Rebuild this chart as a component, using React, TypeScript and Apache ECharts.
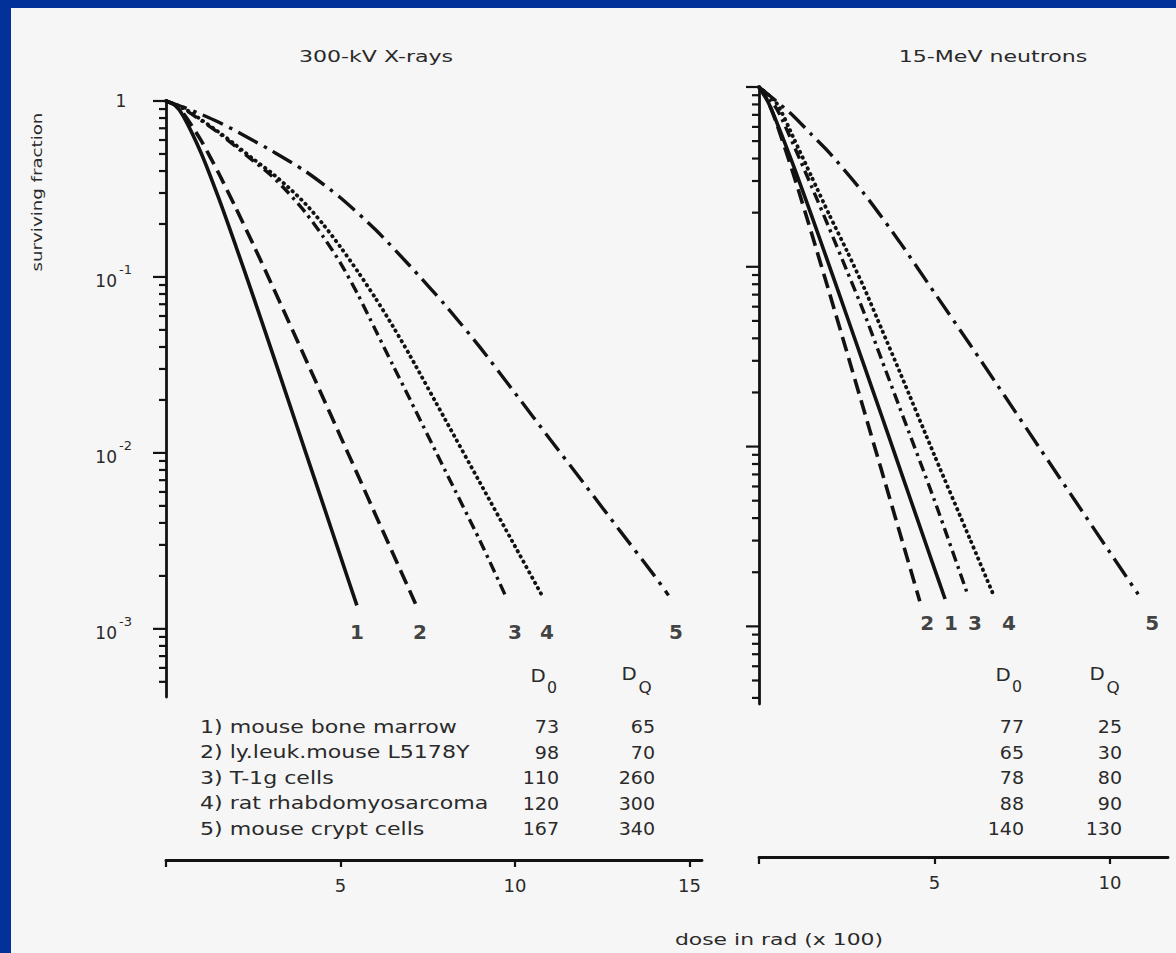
import React, { useEffect, useRef } from 'react';
import * as echarts from 'echarts';

// ---------- data (dose in rad x 100, surviving fraction) ----------
const xray1 = [[0, 1], [0.25, 0.951], [0.5, 0.819], [1, 0.51], [1.5, 0.284], [2, 0.15], [2.5, 0.0775], [3, 0.0395], [3.5, 0.02], [4, 0.0101], [4.5, 0.00512], [5, 0.00258], [5.47, 0.00136]];
const xray2 = [[0, 1], [0.25, 0.952], [0.5, 0.847], [1, 0.599], [1.5, 0.392], [2, 0.247], [2.5, 0.153], [3, 0.0934], [3.5, 0.0566], [4, 0.0342], [4.5, 0.0206], [5, 0.0124], [5.5, 0.00746], [6, 0.00447], [6.5, 0.00269], [7.15, 0.00139]];
const xray3 = [[0, 1], [0.5, 0.902], [1, 0.776], [1.5, 0.661], [2, 0.55], [2.5, 0.457], [3, 0.38], [3.5, 0.302], [4, 0.232], [4.5, 0.17], [5, 0.12], [5.5, 0.0794], [6, 0.0501], [6.5, 0.0316], [7, 0.02], [8, 0.00794], [9, 0.00316], [9.75, 0.00151]];
const xray4 = [[0, 1], [0.5, 0.912], [1, 0.785], [1.5, 0.668], [2, 0.562], [2.5, 0.468], [3, 0.394], [3.5, 0.324], [4, 0.26], [4.5, 0.1995], [5, 0.148], [5.5, 0.107], [6, 0.0759], [6.5, 0.0525], [7, 0.0355], [8, 0.0155], [9, 0.00676], [10, 0.00295], [10.75, 0.00158]];
const xray5 = [[0, 1], [0.5, 0.923], [1, 0.841], [1.5, 0.759], [2, 0.676], [2.5, 0.596], [3, 0.525], [4, 0.398], [5, 0.282], [6, 0.186], [7, 0.115], [8, 0.0692], [9, 0.0398], [10, 0.0219], [11, 0.012], [12, 0.00661], [13, 0.00363], [14, 0.002], [14.4, 0.00155]];

const neut1 = [[0, 1], [0.25, 0.831], [0.5, 0.64], [1, 0.357], [1.5, 0.192], [2, 0.1015], [2.5, 0.0534], [3, 0.028], [3.5, 0.0147], [4, 0.00766], [4.5, 0.004], [5, 0.00209], [5.3, 0.00142]];
const neut2 = [[0, 1], [0.25, 0.837], [0.5, 0.628], [1, 0.3185], [1.5, 0.153], [2, 0.0722], [2.5, 0.0337], [3, 0.01566], [3.5, 0.00726], [4, 0.00337], [4.58, 0.00138]];
const neut3 = [[0, 1], [0.5, 0.759], [1, 0.468], [1.5, 0.279], [2, 0.164], [2.5, 0.0955], [3, 0.055], [3.5, 0.0302], [4, 0.0166], [5, 0.00501], [5.94, 0.00151]];
const neut4 = [[0, 1], [0.5, 0.813], [1, 0.513], [1.5, 0.316], [2, 0.195], [2.5, 0.123], [3, 0.0759], [3.5, 0.0447], [4, 0.0263], [5, 0.00891], [6, 0.00309], [6.67, 0.00151]];
const neut5 = [[0, 1], [0.5, 0.832], [1, 0.684], [1.5, 0.543], [2, 0.432], [3, 0.254], [4, 0.138], [5, 0.0716], [6, 0.0372], [7, 0.0191], [8, 0.00977], [9, 0.00501], [10, 0.00257], [10.8, 0.00151]];

const xrayCurveNames = ['1', '2', '3', '4', '5'];
const xrayCurveLabelDose = [5.47, 7.28, 10.0, 10.92, 14.61];
const neutCurveNames = ['2', '1', '3', '4', '5'];
const neutCurveLabelDose = [4.79, 5.47, 6.15, 7.12, 11.2];

const cellLines = ['1) mouse bone marrow', '2) ly.leuk.mouse L5178Y', '3) T-1g cells', '4) rat rhabdomyosarcoma', '5) mouse crypt cells'];
const xrayD0 = [73, 98, 110, 120, 167];
const xrayDQ = [65, 70, 260, 300, 340];
const neutD0 = [77, 65, 78, 88, 140];
const neutDQ = [25, 30, 80, 90, 130];

const majorTicks = [1, 0.1, 0.01, 0.001];
const minorTicksX = [0.9, 0.8, 0.7, 0.6, 0.5, 0.4, 0.3, 0.2, 0.09, 0.08, 0.07, 0.06, 0.05, 0.04, 0.03, 0.02, 0.009, 0.008, 0.007, 0.006, 0.005, 0.004, 0.003, 0.002, 0.0009, 0.0008, 0.0007, 0.0006, 0.0005];
const minorTicksN = minorTicksX.concat([0.0004]);
const xrayDoseTicks = [0, 5, 10, 15];
const xrayDoseLabels = [5, 10, 15];
const neutDoseTicks = [0, 5, 10];
const neutDoseLabels = [5, 10];

// ---------- styles ----------
const INK = '#121212';
const TXT = '#2a2a2a';
const FONT = 'DejaVu Sans';

const styleFor = [
  { type: 'solid', width: 3.6, cap: 'butt' },
  { type: [15, 7], width: 3.6, cap: 'butt' },
  { type: [11, 5, 3, 5], width: 3.4, cap: 'butt' },
  { type: [0.5, 5.5], width: 3.8, cap: 'round' },
  { type: [22, 7, 3.5, 7], width: 3.4, cap: 'butt' },
];

function curveSeries(data: number[][], idx: number, axis: number) {
  const s = styleFor[idx];
  return {
    type: 'line',
    xAxisIndex: axis,
    yAxisIndex: axis,
    data,
    symbol: 'none',
    showSymbol: false,
    smooth: 0.25,
    clip: false,
    silent: true,
    lineStyle: { color: INK, width: s.width, type: s.type as any, cap: s.cap as any },
    z: 3,
  };
}

function tickSeries(axis: number, minor: number[], withLabels: boolean) {
  const data = majorTicks.map((v) => [0, v, 1]).concat(minor.map((v) => [0, v, 0]));
  return {
    type: 'custom',
    xAxisIndex: axis,
    yAxisIndex: axis,
    silent: true,
    clip: false,
    z: 5,
    data,
    renderItem: (_p: any, api: any) => {
      const v = api.value(1);
      const major = api.value(2) === 1;
      const p = api.coord([0, v]);
      const len = major ? 13 : 7;
      const children: any[] = [
        { type: 'line', shape: { x1: p[0] - len, y1: p[1], x2: p[0], y2: p[1] }, style: { stroke: INK, lineWidth: 2.2 } },
      ];
      if (major && withLabels) {
        const exp = Math.round(Math.log10(v));
        if (exp === 0) {
          children.push({ type: 'text', x: p[0] - 45, y: p[1], style: { text: '1', fill: TXT, fontSize: 17, fontFamily: FONT, align: 'center', verticalAlign: 'middle' } });
        } else {
          children.push({ type: 'text', x: p[0] - 49, y: p[1] + 4, style: { text: '10', fill: TXT, fontSize: 17, fontFamily: FONT, align: 'right', verticalAlign: 'middle' } });
          children.push({ type: 'text', x: p[0] - 47, y: p[1] - 7, style: { text: '-' + String(-exp), fill: TXT, fontSize: 13, fontFamily: FONT, align: 'left', verticalAlign: 'middle' } });
        }
      }
      return { type: 'group', children };
    },
  };
}

function labelSeries(axis: number, doses: number[], names: string[], s: number) {
  return {
    type: 'scatter',
    xAxisIndex: axis,
    yAxisIndex: axis,
    silent: true,
    symbolSize: 1,
    itemStyle: { color: 'rgba(0,0,0,0)' },
    data: doses.map((d, i) => ({ value: [d, s], name: names[i] })),
    label: { show: true, position: 'inside', formatter: '{b}', fontSize: 20, fontWeight: 'bold', color: INK, fontFamily: FONT },
    z: 4,
  };
}

function doseAxis(grid: number, max: number, ticks: number[], labels: number[]) {
  return {
    type: 'value',
    gridIndex: grid,
    min: 0,
    max,
    interval: 5,
    position: 'bottom',
    axisLine: { show: true, onZero: false, lineStyle: { color: INK, width: 2.8 } },
    axisTick: { show: true, length: 7, customValues: ticks, lineStyle: { color: INK, width: 2.2 } },
    axisLabel: {
      show: true,
      customValues: labels,
      margin: 16,
      fontSize: 18,
      color: TXT,
      fontFamily: FONT,
      formatter: (v: number) => (v > 0 && Math.abs(v % 5) < 1e-9 ? String(v) : ''),
    },
    splitLine: { show: false },
  };
}

function hiddenX(grid: number, max: number) {
  return { type: 'value', gridIndex: grid, min: 0, max, show: false, splitLine: { show: false } };
}

function logY(grid: number, min: number) {
  return {
    type: 'log',
    logBase: 10,
    gridIndex: grid,
    min,
    max: 1,
    axisLine: { show: true, onZero: false, lineStyle: { color: INK, width: 2.8 } },
    axisTick: { show: false },
    axisLabel: { show: false },
    splitLine: { show: false },
    minorTick: { show: false },
  };
}

function hiddenY(grid: number) {
  return { type: 'value', gridIndex: grid, min: 0, max: 1, show: false, splitLine: { show: false } };
}

function txt(text: string, x: number, y: number, size: number, align: string, scaleX = 1, extra: any = {}) {
  return {
    type: 'text',
    x,
    y,
    scaleX,
    silent: true,
    style: { text, fill: TXT, fontSize: size, fontFamily: FONT, align, verticalAlign: 'middle' },
    ...extra,
  };
}

const rowY = [727, 752.5, 778, 803.5, 829];

function buildGraphic() {
  const els: any[] = [];
  els.push(txt('300-kV X-rays', 376, 57, 16, 'center', 1.38));
  els.push(txt('15-MeV neutrons', 993, 57, 16, 'center', 1.38));
  els.push(txt('surviving fraction', 37, 192, 14, 'center', 1.3, { rotation: Math.PI / 2 }));
  els.push(txt('dose in rad (x 100)', 779, 940, 16, 'center', 1.37));
  // column headers
  els.push(txt('D', 538, 675, 18, 'center', 1.1));
  els.push(txt('0', 552, 688, 15, 'center', 1.05));
  els.push(txt('D', 629, 673, 18, 'center', 1.1));
  els.push(txt('Q', 645, 688, 16, 'center', 1.05));
  els.push(txt('D', 1003, 674, 18, 'center', 1.1));
  els.push(txt('0', 1017, 687, 15, 'center', 1.05));
  els.push(txt('D', 1097, 673, 18, 'center', 1.1));
  els.push(txt('Q', 1113, 688, 16, 'center', 1.05));
  cellLines.forEach((name, i) => {
    els.push(txt(name, 200, rowY[i], 17, 'left', 1.3));
    els.push(txt(String(xrayD0[i]), 559, rowY[i], 17, 'right', 1.12));
    els.push(txt(String(xrayDQ[i]), 655, rowY[i], 17, 'right', 1.12));
    els.push(txt(String(neutD0[i]), 1024, rowY[i], 17, 'right', 1.12));
    els.push(txt(String(neutDQ[i]), 1122, rowY[i], 17, 'right', 1.12));
  });
  return els;
}

export default function App() {
  const ref = useRef<HTMLDivElement>(null);
  useEffect(() => {
    if (!ref.current) return;
    const chart = echarts.init(ref.current, undefined, { renderer: 'svg' });
    const option: any = {
      animation: false,
      backgroundColor: 'transparent',
      grid: [
        { left: 166, top: 101, width: 536, height: 596 },
        { left: 166, top: 780, width: 536, height: 80 },
        { left: 759, top: 87, width: 409, height: 617 },
        { left: 759, top: 777, width: 409, height: 80 },
      ],
      xAxis: [
        hiddenX(0, 15.36),
        doseAxis(1, 15.36, xrayDoseTicks, xrayDoseLabels),
        hiddenX(2, 11.65),
        doseAxis(3, 11.65, neutDoseTicks, neutDoseLabels),
      ],
      yAxis: [logY(0, 4.1e-4), hiddenY(1), logY(2, 3.7e-4), hiddenY(3)],
      series: [
        curveSeries(xray1, 0, 0),
        curveSeries(xray2, 1, 0),
        curveSeries(xray3, 2, 0),
        curveSeries(xray4, 3, 0),
        curveSeries(xray5, 4, 0),
        curveSeries(neut1, 0, 2),
        curveSeries(neut2, 1, 2),
        curveSeries(neut3, 2, 2),
        curveSeries(neut4, 3, 2),
        curveSeries(neut5, 4, 2),
        tickSeries(0, minorTicksX, true),
        tickSeries(2, minorTicksN, false),
        labelSeries(0, xrayCurveLabelDose, xrayCurveNames, 9.6e-4),
        labelSeries(2, neutCurveLabelDose, neutCurveNames, 1.04e-3),
      ],
      graphic: buildGraphic(),
    };
    chart.setOption(option);
    return () => chart.dispose();
  }, []);
  return (
    <div style={{ position: 'fixed', left: 0, top: 0, width: 1176, height: 953, background: '#03319a', overflow: 'hidden' }}>
      <div style={{ position: 'absolute', left: 11, top: 8, width: 1165, height: 945, background: '#f6f6f6' }} />
      <div ref={ref} style={{ position: 'absolute', left: 0, top: 0, width: 1176, height: 953 }} />
    </div>
  );
}
